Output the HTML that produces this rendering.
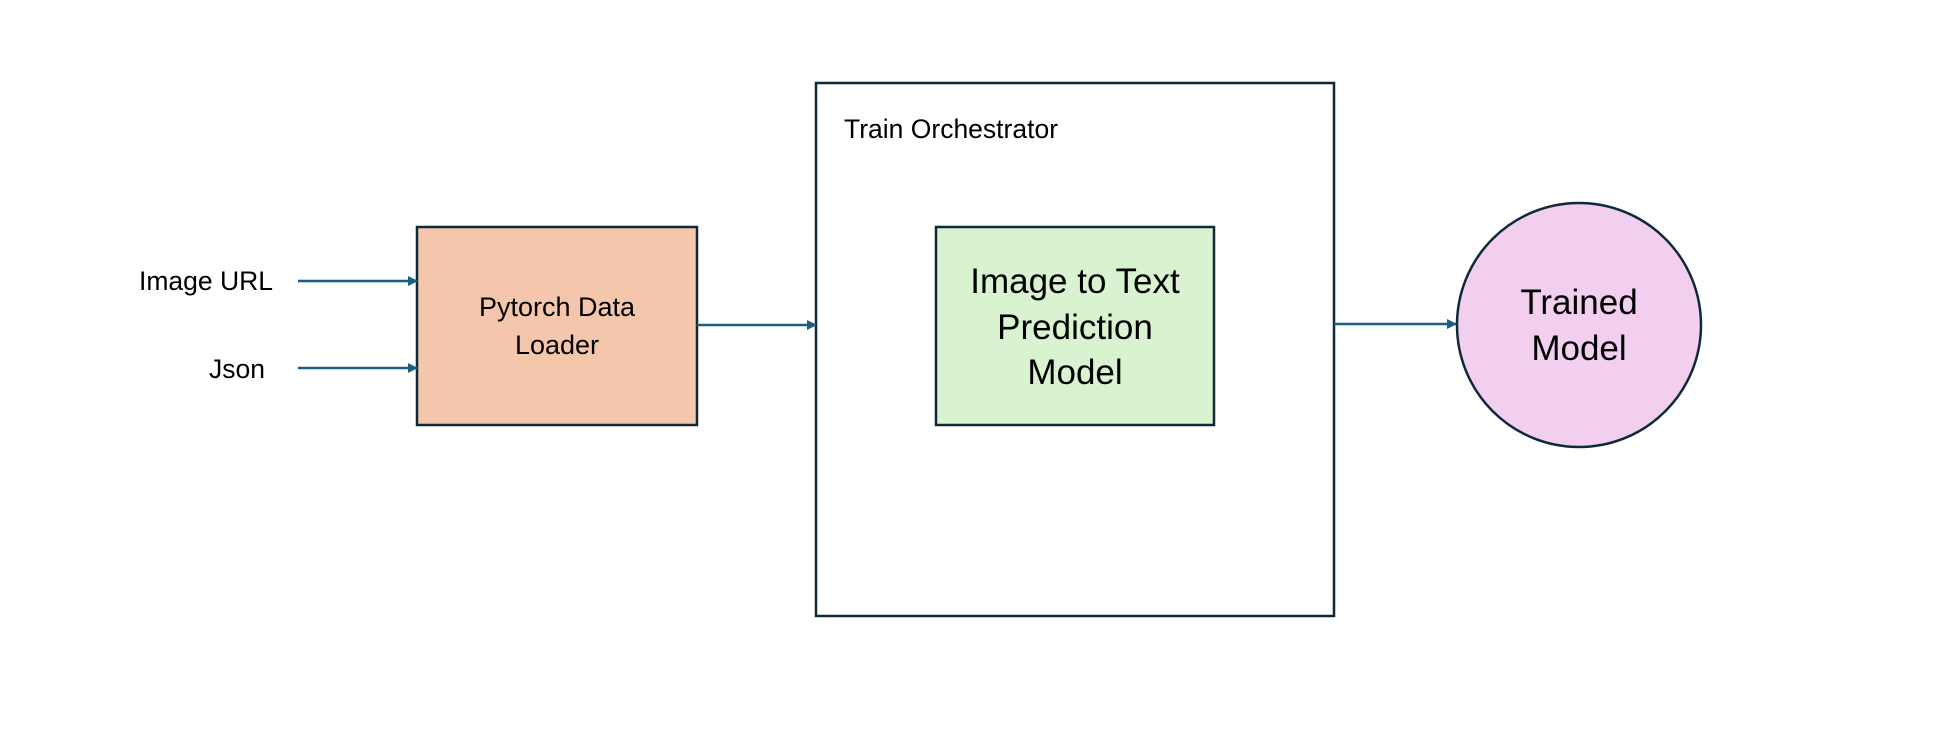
<!DOCTYPE html>
<html><head><meta charset="utf-8"><style>
html,body{margin:0;padding:0;background:#fff;}
svg{display:block;}
text{font-family:"Liberation Sans",sans-serif;fill:#000;}
</style></head><body>
<svg width="1938" height="734" viewBox="0 0 1938 734" xmlns="http://www.w3.org/2000/svg">
<defs>
<marker id="a" markerWidth="10" markerHeight="10" refX="9" refY="5" orient="auto" markerUnits="userSpaceOnUse">
<path d="M0,0 L10,5 L0,10 z" fill="#1a5e80"/>
</marker>
</defs>
<rect x="0" y="0" width="1938" height="734" fill="#fff"/>
<rect x="816" y="83" width="518" height="533" fill="#fff" stroke="#0e2a38" stroke-width="2.5"/>
<text x="844" y="138" font-size="26.5">Train Orchestrator</text>
<rect x="417" y="227" width="280" height="198" fill="#f4c7ad" stroke="#0e2a38" stroke-width="2.5"/>
<text x="557" y="316" font-size="27" text-anchor="middle">Pytorch Data</text>
<text x="557" y="354" font-size="27" text-anchor="middle">Loader</text>
<rect x="936" y="227" width="278" height="198" fill="#d9f2d0" stroke="#0e2a38" stroke-width="2.5"/>
<text x="1075" y="293" font-size="35" text-anchor="middle">Image to Text</text>
<text x="1075" y="339" font-size="35" text-anchor="middle">Prediction</text>
<text x="1075" y="384" font-size="35" text-anchor="middle">Model</text>
<ellipse cx="1579" cy="325" rx="122" ry="122" fill="#f2cfee" stroke="#0e2a38" stroke-width="2.5"/>
<text x="1579" y="314" font-size="35" text-anchor="middle">Trained</text>
<text x="1579" y="360" font-size="35" text-anchor="middle">Model</text>
<text x="139" y="290" font-size="26.5">Image URL</text>
<text x="209" y="378" font-size="26.5">Json</text>
<g stroke="#1a5e80" stroke-width="2.5" fill="none">
<line x1="298" y1="281" x2="417" y2="281" marker-end="url(#a)"/>
<line x1="298" y1="368" x2="417" y2="368" marker-end="url(#a)"/>
<line x1="697" y1="325" x2="816" y2="325" marker-end="url(#a)"/>
<line x1="1334" y1="324" x2="1456" y2="324" marker-end="url(#a)"/>
</g>
</svg>
</body></html>
